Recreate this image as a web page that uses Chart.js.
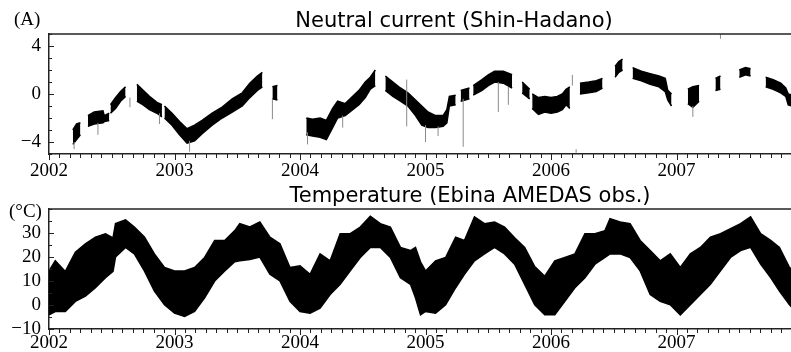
<!DOCTYPE html>
<html>
<head>
<meta charset="utf-8">
<script src="https://cdn.jsdelivr.net/npm/chart.js@4.4.1/dist/chart.umd.min.js"></script>
<style>
html,body{margin:0;padding:0;background:#fff;}
#wrap{position:relative;width:791px;height:352px;overflow:hidden;}
#c1{position:absolute;left:0;top:0;}
#c2{position:absolute;left:0;top:178px;}
</style>
</head>
<body>
<div id="wrap">
<canvas id="c1" width="791" height="178"></canvas>
<canvas id="c2" width="791" height="174"></canvas>
</div>
<script>
// ---------- Neutral current (Shin-Hadano), A : upper / lower envelope (null = data gap)
const curT = [2002.19,2002.22,2002.25,2002.28,
  2002.31,2002.36,2002.43,2002.44,2002.48,2002.485,
  2002.49,2002.53,2002.57,2002.61,2002.63,
  2002.70,2002.75,2002.80,2002.86,2002.90,2002.915,
  2002.92,2002.98,2003.04,2003.10,2003.16,2003.22,2003.30,2003.38,2003.46,2003.54,2003.60,2003.66,2003.70,2003.72,
  2003.78,2003.82,2003.85,
  2004.05,2004.10,2004.16,2004.21,2004.26,2004.30,2004.36,2004.42,2004.47,2004.52,2004.56,2004.60,2004.63,
  2004.68,2004.74,2004.80,2004.86,2004.92,2004.97,2005.02,2005.08,2005.14,2005.17,2005.19,2005.24,2005.26,
  2005.28,2005.35,2005.365,
  2005.38,2005.45,2005.50,2005.55,2005.62,2005.69,2005.73,
  2005.77,2005.83,2005.84,
  2005.85,2005.90,2005.95,2006.00,2006.05,2006.09,2006.12,2006.15,2006.18,
  2006.23,2006.30,2006.36,2006.41,2006.45,
  2006.51,2006.54,2006.57,2006.60,
  2006.65,2006.72,2006.79,2006.86,2006.91,2006.93,2006.96,2006.99,
  2007.09,2007.13,2007.18,2007.20,
  2007.31,2007.35,2007.40,
  2007.50,2007.55,2007.59,2007.65,
  2007.71,2007.77,2007.83,2007.87,2007.89,2007.92];
const curHi = [-3.0,-2.5,-2.4,null,
  -1.8,-1.5,-1.4,-1.8,-1.6,null,
  -0.9,-0.3,0.2,0.6,null,
  0.8,0.3,-0.2,-0.7,-0.9,null,
  -1.0,-1.6,-2.3,-2.9,-2.6,-2.2,-1.6,-1.1,-0.4,0.1,0.9,1.5,1.8,null,
  0.6,0.7,null,
  -2.0,-2.1,-2.0,-2.2,-1.2,-0.6,-0.8,-0.2,0.3,1.0,1.4,2.0,null,
  1.5,1.0,0.5,0.1,-0.5,-1.0,-1.5,-1.8,-1.8,-1.3,-0.2,-0.1,null,
  0.3,0.5,null,
  0.7,1.2,1.6,1.9,1.9,1.6,null,
  1.0,0.4,null,
  0.0,-0.3,-0.2,-0.3,-0.2,0.0,0.4,0.6,null,
  0.9,1.0,1.1,1.3,null,
  2.3,2.7,2.9,null,
  2.2,1.9,1.7,1.5,1.3,0.3,0.0,null,
  0.4,0.6,0.7,null,
  1.3,1.5,null,
  2.0,2.2,2.1,null,
  1.4,1.2,0.9,0.5,0.0,-0.1];
const curLo = [-4.2,-3.8,-3.4,null,
  -2.7,-2.5,-2.4,-2.3,-2.2,null,
  -1.6,-1.2,-0.6,-0.2,null,
  -0.6,-0.9,-1.3,-1.6,-1.9,null,
  -2.0,-2.6,-3.4,-4.1,-3.9,-3.3,-2.6,-2.0,-1.5,-1.0,-0.3,0.3,0.6,null,
  -0.4,-0.5,null,
  -3.4,-3.5,-3.6,-3.8,-2.8,-2.0,-1.8,-1.3,-0.9,-0.3,0.4,0.7,null,
  0.3,-0.2,-0.6,-1.0,-1.8,-2.6,-2.8,-2.8,-2.7,-2.4,-1.0,-0.9,null,
  -0.6,-0.4,null,
  -0.1,0.3,0.7,1.0,0.9,0.5,null,
  0.1,-0.4,null,
  -1.2,-1.7,-1.5,-1.6,-1.5,-1.3,-0.9,-1.2,null,
  0.0,0.1,0.2,0.5,null,
  1.4,1.8,2.0,null,
  1.3,1.1,0.8,0.6,0.2,-0.5,-1.0,null,
  -0.8,-1.1,-0.6,null,
  0.3,0.4,null,
  1.4,1.6,1.5,null,
  0.6,0.4,0.1,-0.2,-0.9,-1.0];
// isolated spikes / outliers of the current record
const spikeT    = [2002.20,2002.39,2002.645,2002.88,2003.12,2003.78,2004.06,2004.34,2004.85,2005.00,2005.10,2005.30,2005.58,2005.66,2006.17,2006.20,2007.13,2007.35];
const spikeFrom = [-4.6,-3.4,-1.1,-2.5,-4.8,-2.1,-4.2,-2.8,-2.7,-4.0,-3.5,-4.4,-1.5,-0.9,0.7,-4.9,-1.9,4.6];
const spikeTo   = [-4.0,-2.4,-0.3,-1.6,-3.9,-0.4,-3.2,-1.8,1.2,-2.6,-2.7,-0.4,1.0,0.6,1.6,-4.6,-1.0,5.0];

// ---------- Temperature (Ebina AMEDAS obs.), degC : upper / lower envelope
const tempT  = [2002.00,2002.05,2002.13,2002.21,2002.29,2002.37,2002.45,2002.51,2002.53,2002.61,2002.68,2002.76,2002.84,2002.92,
  2003.00,2003.08,2003.16,2003.24,2003.32,2003.40,2003.48,2003.52,2003.60,2003.68,2003.76,2003.84,2003.92,
  2004.00,2004.08,2004.16,2004.24,2004.32,2004.40,2004.48,2004.56,2004.64,2004.72,2004.80,2004.88,2004.92,2004.96,
  2005.00,2005.08,2005.16,2005.24,2005.31,2005.39,2005.47,2005.55,2005.63,2005.71,2005.79,2005.87,2005.95,
  2006.03,2006.11,2006.19,2006.27,2006.35,2006.43,2006.47,2006.55,2006.63,2006.71,2006.79,2006.87,2006.95,
  2007.03,2007.11,2007.19,2007.27,2007.35,2007.43,2007.51,2007.59,2007.67,2007.75,2007.82,2007.90,2007.92];
const tempHi = [14.2,18.4,14.0,22.0,25.5,28.3,29.7,28.0,33.9,35.5,32.5,28.3,21.3,15.6,
  14.2,14.2,15.6,19.8,26.9,26.9,31.0,33.9,32.5,34.6,28.3,25.5,15.6,
  16.3,12.8,21.3,18.4,29.7,29.7,32.5,37.0,33.9,32.5,24.0,22.7,24.0,18.0,
  14.2,18.4,19.8,28.3,26.9,36.7,33.9,34.6,32.5,28.0,24.0,16.0,12.0,
  18.4,19.8,21.3,29.7,29.7,31.0,36.0,34.6,33.9,26.9,22.7,18.4,21.3,
  15.6,21.3,24.0,28.3,29.7,31.8,33.9,36.7,29.7,26.9,24.0,15.6,15.0];
const tempLo = [-4.1,-2.7,-2.7,1.5,3.7,7.2,11.4,14.0,20.0,24.0,21.3,14.2,5.8,0.1,
  -3.4,-4.8,-2.7,3.0,10.0,14.2,18.0,18.4,19.0,20.0,12.8,10.0,1.5,
  -2.7,-3.4,-1.3,4.4,8.6,14.2,19.8,24.0,24.0,19.8,11.4,8.6,3.0,-4.1,
  -2.7,-3.4,0.1,7.2,12.8,18.4,21.3,24.0,21.3,17.0,8.6,0.1,-4.1,
  -4.1,1.5,7.2,11.4,17.0,19.8,21.3,21.3,19.8,14.2,4.4,1.5,0.1,
  -4.1,0.1,4.4,8.6,14.2,19.8,22.7,24.0,17.0,11.4,5.8,0.1,-1.0];

// axis settings
const xMin = 2002, xMax = 2007.912;
const curTicks  = [-5,-4,-3,-2,-1,0,1,2,3,4,5];
const curLabels = [-4,0,4];
const tempTicks  = [-10,-5,0,5,10,15,20,25,30,35,40];
const tempLabels = [-10,0,10,20,30];

const fmt = v => (v < 0 ? '\u2212' + Math.abs(v) : String(v));
const serif = {family: '"Liberation Serif","Times New Roman",serif', size: 19};

const frame = {
  id: 'frame',
  afterDraw(chart, args, o) {
    const ctx = chart.ctx, a = chart.chartArea;
    ctx.save();
    ctx.strokeStyle = '#222';
    ctx.lineWidth = 1.5;
    ctx.beginPath(); ctx.moveTo(a.left, a.top); ctx.lineTo(a.right, a.top); ctx.stroke();
    ctx.lineWidth = 1;
    const xs = chart.scales.x;
    xs.ticks.forEach(tk => {
      const px = Math.round(xs.getPixelForValue(tk.value)) + 0.5;
      const len = tk.label !== '' ? 6 : 4;
      ctx.beginPath(); ctx.moveTo(px, a.bottom); ctx.lineTo(px, a.bottom + len); ctx.stroke();
    });
    const ys = chart.scales.y;
    ys.ticks.forEach(tk => {
      const py = Math.round(ys.getPixelForValue(tk.value)) + 0.5;
      const len = tk.label !== '' ? 5 : 3;
      ctx.beginPath(); ctx.moveTo(a.left, py); ctx.lineTo(a.left + len, py); ctx.stroke();
    });
    ctx.fillStyle = '#000';
    ctx.textBaseline = 'middle';
    (o.texts || []).forEach(t => {
      ctx.font = t.font;
      ctx.textAlign = t.align;
      ctx.fillText(t.text, t.x, t.y);
    });
    ctx.restore();
  }
};

function monthTicks() {
  const arr = [];
  for (let m = 0; xMin + m / 12 <= xMax + 1e-9; m++) arr.push({value: xMin + m / 12});
  return arr;
}

function makeChart(id, datasets, yMin, yMax, yTicks, yLabels, padTop, xHeight, xPad, texts) {
  return new Chart(document.getElementById(id), {
    type: 'line',
    data: {datasets},
    options: {
      responsive: false,
      animation: false,
      devicePixelRatio: 1,
      layout: {padding: {top: padTop, left: 0, right: 0, bottom: 0}},
      plugins: {legend: {display: false}, tooltip: {enabled: false}, title: {display: false}, frame: {texts}},
      elements: {point: {radius: 0}, line: {tension: 0}},
      scales: {
        x: {
          type: 'linear', min: xMin, max: xMax,
          afterBuildTicks: s => { s.ticks = monthTicks(); },
          afterFit: s => { s.height = xHeight; },
          grid: {display: true, drawOnChartArea: false, drawTicks: false},
          border: {display: true, color: '#222', width: 1.5},
          ticks: {
            autoSkip: false, maxRotation: 0, padding: xPad, color: '#000', font: serif,
            callback: v => (Math.abs(v - Math.round(v)) < 1e-6 ? String(Math.round(v)) : '')
          }
        },
        y: {
          type: 'linear', min: yMin, max: yMax,
          afterBuildTicks: s => { s.ticks = yTicks.map(v => ({value: v})); },
          afterFit: s => { s.width = 49; },
          grid: {display: true, drawOnChartArea: false, drawTicks: false},
          border: {display: true, color: '#222', width: 1.5},
          ticks: {
            autoSkip: false, padding: 8, color: '#000', font: serif,
            callback: v => (yLabels.includes(v) ? fmt(v) : '')
          }
        }
      }
    },
    plugins: [frame]
  });
}

const pts = (T, V) => T.map((t, i) => ({x: t, y: V[i]}));
const spikeData = [];
spikeT.forEach((t, i) => { spikeData.push({x: t, y: spikeFrom[i]}, {x: t, y: spikeTo[i]}, {x: t, y: null}); });

makeChart('c1', [
  {data: spikeData, borderColor: '#8a8a8a', borderWidth: 1, spanGaps: false, fill: false},
  {data: pts(curT, curHi), borderColor: '#000', backgroundColor: '#000', borderWidth: 1.5, spanGaps: false, fill: '+1'},
  {data: pts(curT, curLo), borderColor: '#000', backgroundColor: '#000', borderWidth: 1.5, spanGaps: false, fill: false}
], -5, 5, curTicks, curLabels, 34, 24, 6, [
  {text: 'Neutral current (Shin-Hadano)', x: 454, y: 22, align: 'center', font: '21px "DejaVu Sans", sans-serif'},
  {text: '(A)', x: 14, y: 20, align: 'left', font: '19px "Liberation Serif", serif'}
]);

makeChart('c2', [
  {data: pts(tempT, tempHi), borderColor: '#000', backgroundColor: '#000', borderWidth: 1.5, fill: '+1'},
  {data: pts(tempT, tempLo), borderColor: '#000', backgroundColor: '#000', borderWidth: 1.5, fill: false}
], -10, 40, tempTicks, tempLabels, 31, 23, 3, [
  {text: 'Temperature (Ebina AMEDAS obs.)', x: 470, y: 19, align: 'center', font: '21px "DejaVu Sans", sans-serif'},
  {text: '(\u00B0C)', x: 9, y: 34, align: 'left', font: '19px "Liberation Serif", serif'}
]);
</script>
</body>
</html>
